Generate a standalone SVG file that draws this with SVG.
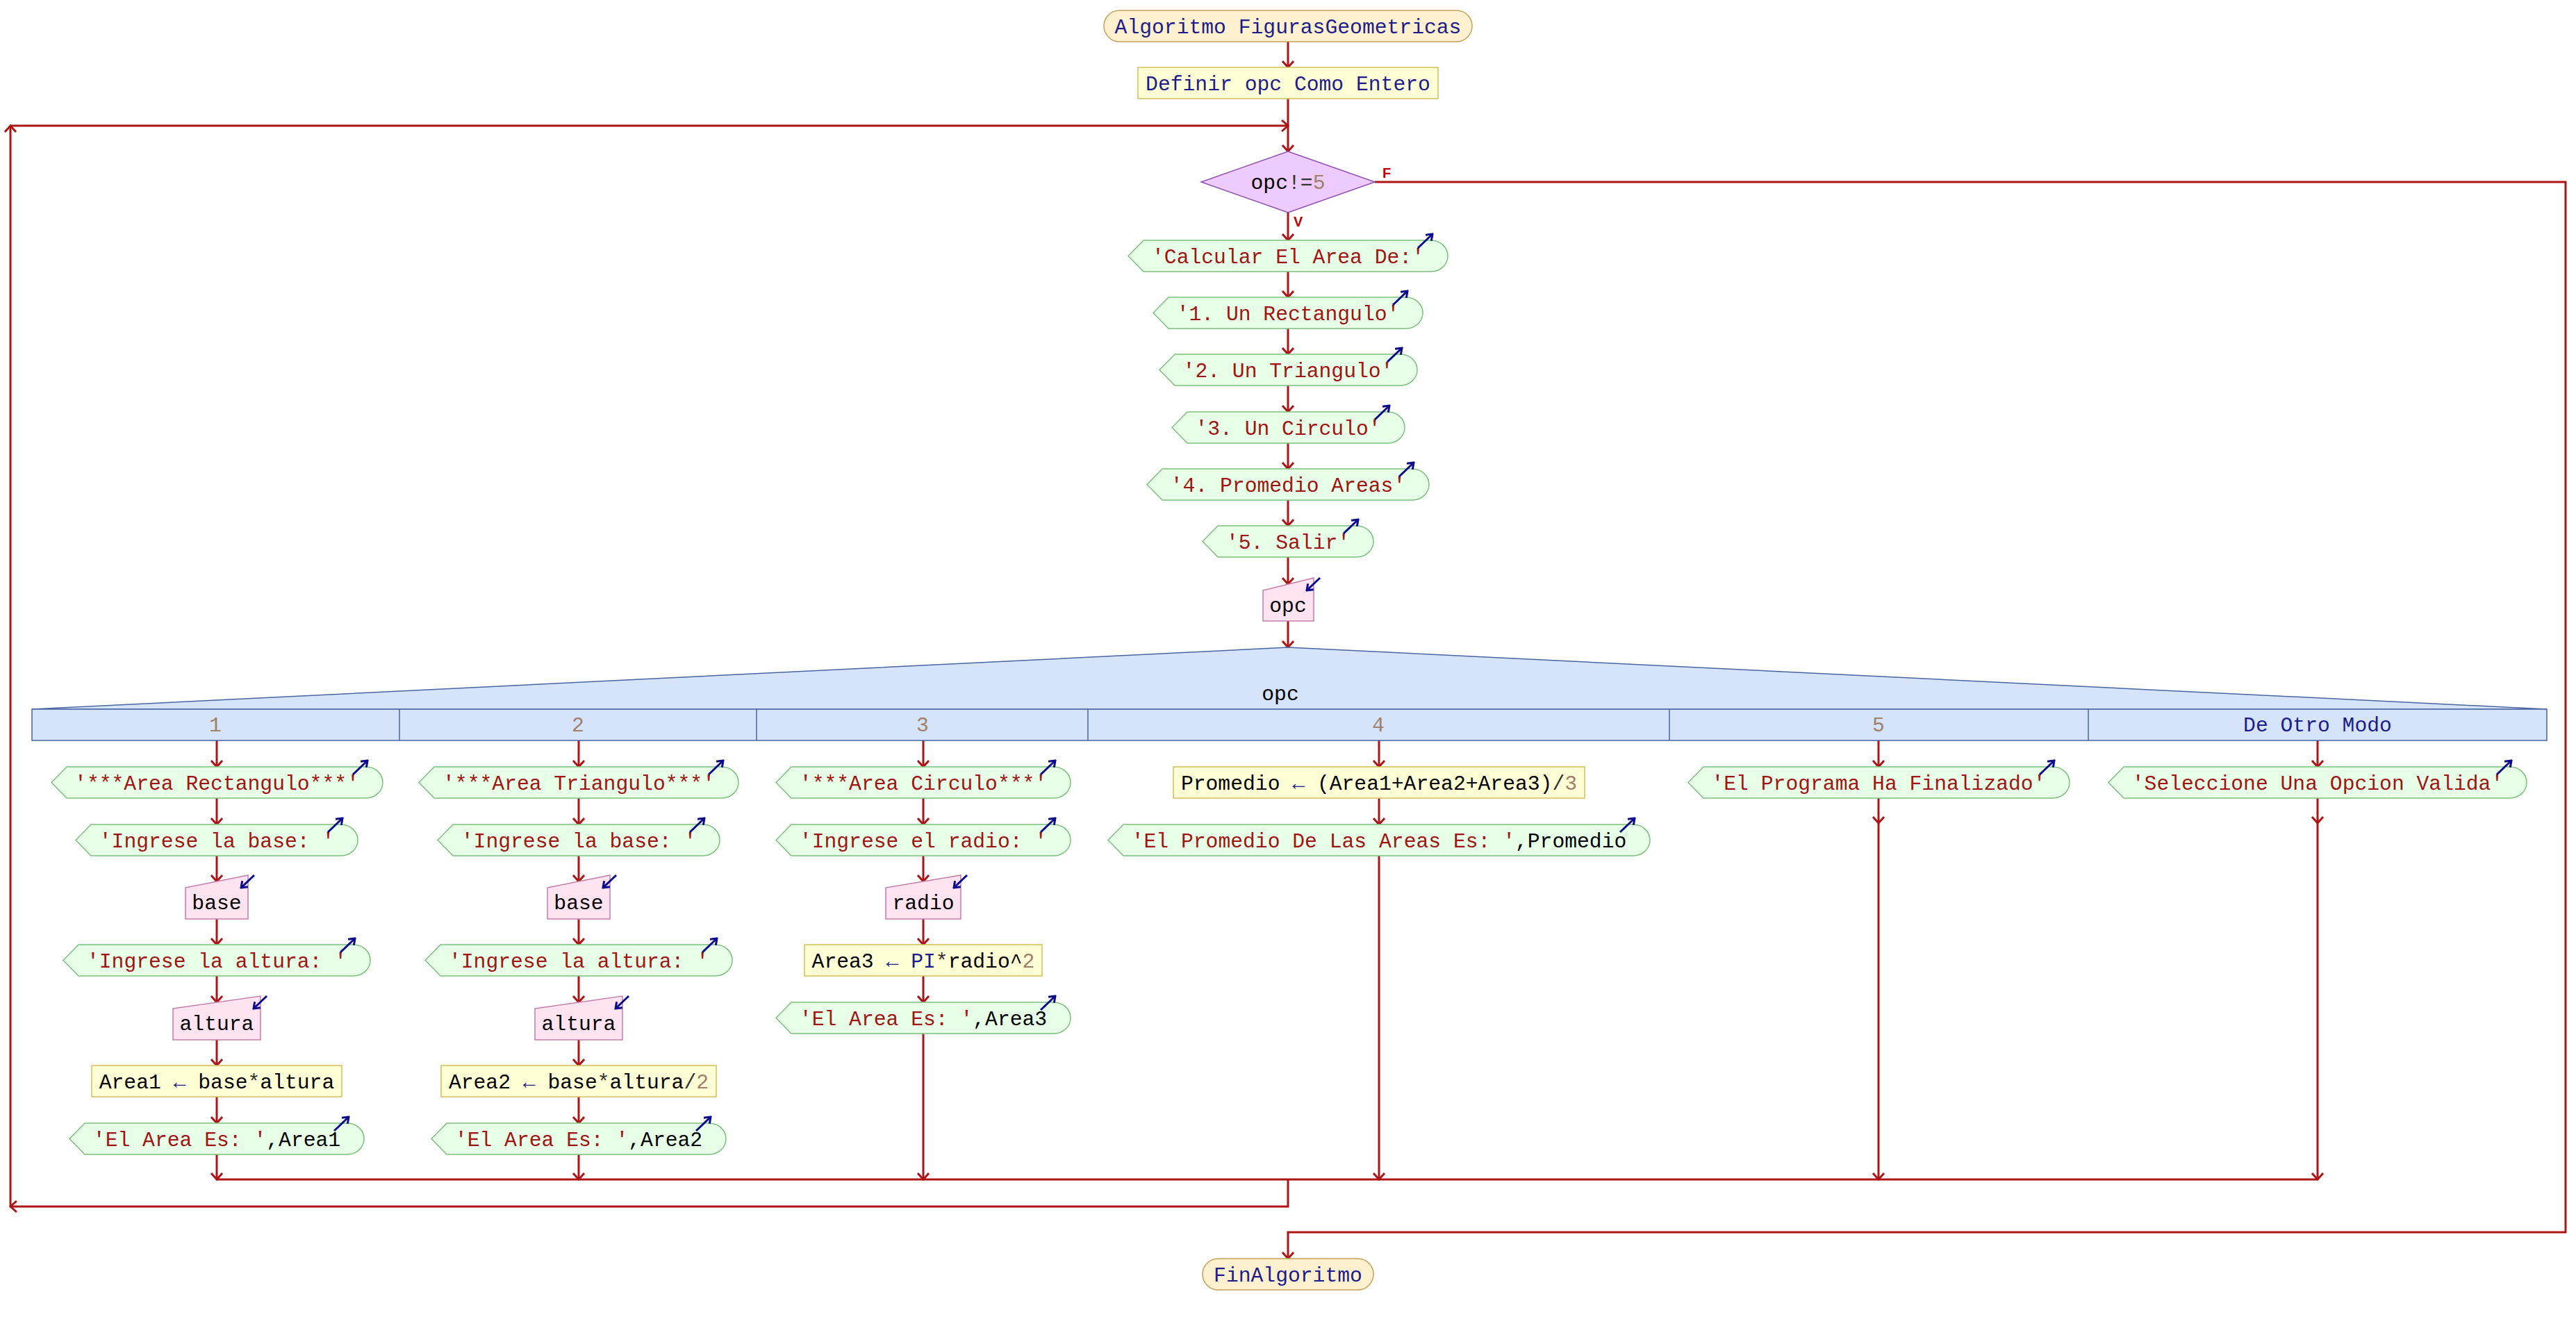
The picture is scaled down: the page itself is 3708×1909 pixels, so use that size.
<svg xmlns="http://www.w3.org/2000/svg" width="3708" height="1909" viewBox="0 0 3708 1909">
<style>
.t{font-family:"Liberation Mono","DejaVu Sans Mono",monospace;font-size:29.7px;text-anchor:middle}
.kw{fill:#1C1C8C}.st{fill:#A01414}.id{fill:#000}.nu{fill:#A0806A}.op{fill:#333}
.out{fill:#E6FFE6;stroke:#7DC07D;stroke-width:1.5}
.inp{fill:#FFE3F1;stroke:#C47FA8;stroke-width:1.5}
.asg{fill:#FFFFD6;stroke:#D2BE5A;stroke-width:1.5}
.term{fill:#FFF1CF;stroke:#C4A05A;stroke-width:1.5}
.dec{fill:#EDCBFF;stroke:#8E4FB0;stroke-width:1.5}
.sw{fill:#D5E4FA;stroke:#4A64A0;stroke-width:1.5}
.ln{fill:none;stroke:#AD1416;stroke-width:3}
.ar{marker-end:url(#ar)}
.ba{stroke:#0A0A8C;stroke-width:3;marker-end:url(#ab)}
.lbl{font-family:"Liberation Sans",Arial,sans-serif;font-weight:bold;font-size:20px;fill:#C00000}
</style>
<defs>
<marker id="ar" viewBox="-12 -10 14 20" refX="0" refY="0" markerWidth="14" markerHeight="20" markerUnits="userSpaceOnUse" orient="auto"><path d="M-9,-8 L0,0 L-9,8" fill="none" stroke="#AD1416" stroke-width="3"/></marker>
<marker id="ab" viewBox="-11 -8 13 16" refX="0" refY="0" markerWidth="13" markerHeight="16" markerUnits="userSpaceOnUse" orient="auto"><path d="M-8,-6 L0,0 L-8,6" fill="none" stroke="#0A0A8C" stroke-width="3"/></marker>
</defs>
<rect width="3708" height="1909" fill="#fff"/>

<g id="connectors">
<path class="ln ar" d="M1854,60 V97"/>
<path class="ln ar" d="M1854,142 V218"/>
<path class="ln ar" d="M1854,306 V346"/>
<path class="ln ar" d="M1854,391 V428"/>
<path class="ln ar" d="M1854,473 V510"/>
<path class="ln ar" d="M1854,555 V593"/>
<path class="ln ar" d="M1854,638 V675"/>
<path class="ln ar" d="M1854,720 V757"/>
<path class="ln ar" d="M1854,802 V841"/>
<path class="ln ar" d="M1854,894 V932"/>
<path class="ln ar" d="M312,1066 V1104"/>
<path class="ln ar" d="M833,1066 V1104"/>
<path class="ln ar" d="M1329,1066 V1104"/>
<path class="ln ar" d="M1985,1066 V1104"/>
<path class="ln ar" d="M2704,1066 V1104"/>
<path class="ln ar" d="M3336,1066 V1104"/>
<path class="ln ar" d="M312,1149 V1187"/>
<path class="ln ar" d="M312,1232 V1269"/>
<path class="ln ar" d="M312,1323 V1360"/>
<path class="ln ar" d="M312,1405 V1443"/>
<path class="ln ar" d="M312,1497 V1534"/>
<path class="ln ar" d="M312,1579 V1617"/>
<path class="ln ar" d="M312,1662 V1698"/>
<path class="ln ar" d="M833,1149 V1187"/>
<path class="ln ar" d="M833,1232 V1269"/>
<path class="ln ar" d="M833,1323 V1360"/>
<path class="ln ar" d="M833,1405 V1443"/>
<path class="ln ar" d="M833,1497 V1534"/>
<path class="ln ar" d="M833,1579 V1617"/>
<path class="ln ar" d="M833,1662 V1698"/>
<path class="ln ar" d="M1329,1149 V1187"/>
<path class="ln ar" d="M1329,1232 V1269"/>
<path class="ln ar" d="M1329,1323 V1360"/>
<path class="ln ar" d="M1329,1405 V1443"/>
<path class="ln ar" d="M1329,1488 V1698"/>
<path class="ln ar" d="M1985,1149 V1187"/>
<path class="ln ar" d="M1985,1232 V1698"/>
<path class="ln ar" d="M2704,1149 V1185"/>
<path class="ln ar" d="M2704,1185 V1698"/>
<path class="ln ar" d="M3336,1149 V1185"/>
<path class="ln ar" d="M3336,1185 V1698"/>
<path class="ln" d="M312,1698 H3336"/>
<path class="ln ar" d="M1854,1698 V1737 H15"/>
<path class="ln ar" d="M15,1737 V181"/>
<path class="ln ar" d="M15,181 H1854"/>
<path class="ln ar" d="M1979,262 H3693 V1774 H1854 V1812"/>
<text class="lbl" x="1990" y="256">F</text>
<text class="lbl" x="1862" y="326">V</text>
</g>

<g id="inicio">
<rect class="term" x="1589" y="15" width="530" height="45" rx="22.5"/>
<text class="t kw" x="1854" y="47.5">Algoritmo FigurasGeometricas</text>
</g>
<g id="definir">
<rect class="asg" x="1638" y="97" width="432" height="45"/>
<text class="t kw" x="1854" y="129.5">Definir opc Como Entero</text>
</g>
<g id="mientras">
<polygon class="dec" points="1854,218 1979,262 1854,306 1729,262"/>
<text class="t" x="1854" y="272"><tspan class="id">opc</tspan><tspan class="op">!=</tspan><tspan class="nu">5</tspan></text>
</g>
<g id="menu0">
<path class="out" d="M1624,368.5 L1646,346 H2060 A24 22.5 0 0 1 2060,391 H1646 Z"/>
<text class="t st" x="1854" y="378.5">'Calcular El Area De:'</text>
<line class="ba" x1="2041" y1="357" x2="2062" y2="337"/>
</g>
<g id="menu1">
<path class="out" d="M1660,450.5 L1682,428 H2024 A24 22.5 0 0 1 2024,473 H1682 Z"/>
<text class="t st" x="1854" y="460.5">'1. Un Rectangulo'</text>
<line class="ba" x1="2005" y1="439" x2="2026" y2="419"/>
</g>
<g id="menu2">
<path class="out" d="M1669,532.5 L1691,510 H2016 A24 22.5 0 0 1 2016,555 H1691 Z"/>
<text class="t st" x="1854" y="542.5">'2. Un Triangulo'</text>
<line class="ba" x1="1997" y1="521" x2="2018" y2="501"/>
</g>
<g id="menu3">
<path class="out" d="M1687,615.5 L1709,593 H1998 A24 22.5 0 0 1 1998,638 H1709 Z"/>
<text class="t st" x="1854" y="625.5">'3. Un Circulo'</text>
<line class="ba" x1="1979" y1="604" x2="2000" y2="584"/>
</g>
<g id="menu4">
<path class="out" d="M1651,697.5 L1673,675 H2033 A24 22.5 0 0 1 2033,720 H1673 Z"/>
<text class="t st" x="1854" y="707.5">'4. Promedio Areas'</text>
<line class="ba" x1="2014" y1="686" x2="2035" y2="666"/>
</g>
<g id="menu5">
<path class="out" d="M1731,779.5 L1753,757 H1953 A24 22.5 0 0 1 1953,802 H1753 Z"/>
<text class="t st" x="1854" y="789.5">'5. Salir'</text>
<line class="ba" x1="1934" y1="768" x2="1955" y2="748"/>
</g>
<g id="leer_opc">
<path class="inp" d="M1818,850 L1891,832 V894 H1818 Z"/>
<text class="t id" x="1854" y="881">opc</text>
<line class="ba" x1="1900" y1="832" x2="1881" y2="850"/>
</g>
<g id="segun">
<path class="sw" d="M46,1021 L1854,932 L3666,1021 Z"/>
<rect class="sw" x="46" y="1021" width="3620" height="45"/>
<path fill="none" stroke="#4A64A0" stroke-width="1.5" d="M575,1021 V1066 M1089,1021 V1066 M1566,1021 V1066 M2403,1021 V1066 M3006,1021 V1066"/>
<text class="t id" x="1843" y="1008">opc</text>
<text class="t nu" x="310" y="1053">1</text>
<text class="t nu" x="832" y="1053">2</text>
<text class="t nu" x="1328" y="1053">3</text>
<text class="t nu" x="1984" y="1053">4</text>
<text class="t nu" x="2704" y="1053">5</text>
<text class="t kw" x="3336" y="1053">De Otro Modo</text>
</g>

<g id="c1r1">
<path class="out" d="M74,1126.5 L96,1104 H527 A24 22.5 0 0 1 527,1149 H96 Z"/>
<text class="t st" x="312" y="1136.5">'***Area Rectangulo***'</text>
<line class="ba" x1="508" y1="1115" x2="529" y2="1095"/>
</g>
<g id="c1r2">
<path class="out" d="M109,1209.5 L131,1187 H491 A24 22.5 0 0 1 491,1232 H131 Z"/>
<text class="t st" x="312" y="1219.5">'Ingrese la base: '</text>
<line class="ba" x1="472" y1="1198" x2="493" y2="1178"/>
</g>
<g id="c1r3">
<path class="inp" d="M267,1278 L357,1260 V1323 H267 Z"/>
<text class="t id" x="312" y="1309">base</text>
<line class="ba" x1="366" y1="1260" x2="347" y2="1278"/>
</g>
<g id="c1r4">
<path class="out" d="M91,1382.5 L113,1360 H509 A24 22.5 0 0 1 509,1405 H113 Z"/>
<text class="t st" x="312" y="1392.5">'Ingrese la altura: '</text>
<line class="ba" x1="490" y1="1371" x2="511" y2="1351"/>
</g>
<g id="c1r5">
<path class="inp" d="M249,1452 L375,1434 V1497 H249 Z"/>
<text class="t id" x="312" y="1483">altura</text>
<line class="ba" x1="384" y1="1434" x2="365" y2="1452"/>
</g>
<g id="c1r6">
<rect class="asg" x="132" y="1534" width="360" height="45"/>
<text class="t" x="312" y="1566.5"><tspan class="id">Area1 </tspan><tspan class="kw">←</tspan><tspan class="id"> base</tspan><tspan class="op">*</tspan><tspan class="id">altura</tspan></text>
</g>
<g id="c1r7">
<path class="out" d="M100,1639.5 L122,1617 H500 A24 22.5 0 0 1 500,1662 H122 Z"/>
<text class="t" x="312" y="1649.5"><tspan class="st">'El Area Es: '</tspan><tspan class="id">,Area1</tspan></text>
<line class="ba" x1="481" y1="1628" x2="502" y2="1608"/>
</g>

<g id="c2r1">
<path class="out" d="M603,1126.5 L625,1104 H1039 A24 22.5 0 0 1 1039,1149 H625 Z"/>
<text class="t st" x="833" y="1136.5">'***Area Triangulo***'</text>
<line class="ba" x1="1020" y1="1115" x2="1041" y2="1095"/>
</g>
<g id="c2r2">
<path class="out" d="M630,1209.5 L652,1187 H1012 A24 22.5 0 0 1 1012,1232 H652 Z"/>
<text class="t st" x="833" y="1219.5">'Ingrese la base: '</text>
<line class="ba" x1="993" y1="1198" x2="1014" y2="1178"/>
</g>
<g id="c2r3">
<path class="inp" d="M788,1278 L878,1260 V1323 H788 Z"/>
<text class="t id" x="833" y="1309">base</text>
<line class="ba" x1="887" y1="1260" x2="868" y2="1278"/>
</g>
<g id="c2r4">
<path class="out" d="M612,1382.5 L634,1360 H1030 A24 22.5 0 0 1 1030,1405 H634 Z"/>
<text class="t st" x="833" y="1392.5">'Ingrese la altura: '</text>
<line class="ba" x1="1011" y1="1371" x2="1032" y2="1351"/>
</g>
<g id="c2r5">
<path class="inp" d="M770,1452 L896,1434 V1497 H770 Z"/>
<text class="t id" x="833" y="1483">altura</text>
<line class="ba" x1="905" y1="1434" x2="886" y2="1452"/>
</g>
<g id="c2r6">
<rect class="asg" x="635" y="1534" width="396" height="45"/>
<text class="t" x="833" y="1566.5"><tspan class="id">Area2 </tspan><tspan class="kw">←</tspan><tspan class="id"> base</tspan><tspan class="op">*</tspan><tspan class="id">altura</tspan><tspan class="op">/</tspan><tspan class="nu">2</tspan></text>
</g>
<g id="c2r7">
<path class="out" d="M621,1639.5 L643,1617 H1021 A24 22.5 0 0 1 1021,1662 H643 Z"/>
<text class="t" x="833" y="1649.5"><tspan class="st">'El Area Es: '</tspan><tspan class="id">,Area2</tspan></text>
<line class="ba" x1="1002" y1="1628" x2="1023" y2="1608"/>
</g>

<g id="c3r1">
<path class="out" d="M1117,1126.5 L1139,1104 H1517 A24 22.5 0 0 1 1517,1149 H1139 Z"/>
<text class="t st" x="1329" y="1136.5">'***Area Circulo***'</text>
<line class="ba" x1="1498" y1="1115" x2="1519" y2="1095"/>
</g>
<g id="c3r2">
<path class="out" d="M1117,1209.5 L1139,1187 H1517 A24 22.5 0 0 1 1517,1232 H1139 Z"/>
<text class="t st" x="1329" y="1219.5">'Ingrese el radio: '</text>
<line class="ba" x1="1498" y1="1198" x2="1519" y2="1178"/>
</g>
<g id="c3r3">
<path class="inp" d="M1275,1278 L1383,1260 V1323 H1275 Z"/>
<text class="t id" x="1329" y="1309">radio</text>
<line class="ba" x1="1392" y1="1260" x2="1373" y2="1278"/>
</g>
<g id="c3r4">
<rect class="asg" x="1158" y="1360" width="342" height="45"/>
<text class="t" x="1329" y="1392.5"><tspan class="id">Area3 </tspan><tspan class="kw">←</tspan><tspan class="id"> </tspan><tspan class="kw">PI</tspan><tspan class="op">*</tspan><tspan class="id">radio^</tspan><tspan class="nu">2</tspan></text>
</g>
<g id="c3r5">
<path class="out" d="M1117,1465.5 L1139,1443 H1517 A24 22.5 0 0 1 1517,1488 H1139 Z"/>
<text class="t" x="1329" y="1475.5"><tspan class="st">'El Area Es: '</tspan><tspan class="id">,Area3</tspan></text>
<line class="ba" x1="1498" y1="1454" x2="1519" y2="1434"/>
</g>

<g id="c4r1">
<rect class="asg" x="1689" y="1104" width="592" height="45"/>
<text class="t" x="1985" y="1136.5"><tspan class="id">Promedio </tspan><tspan class="kw">←</tspan><tspan class="id"> (Area1+Area2+Area3)</tspan><tspan class="op">/</tspan><tspan class="nu">3</tspan></text>
</g>
<g id="c4r2">
<path class="out" d="M1595,1209.5 L1617,1187 H2351 A24 22.5 0 0 1 2351,1232 H1617 Z"/>
<text class="t" x="1985" y="1219.5"><tspan class="st">'El Promedio De Las Areas Es: '</tspan><tspan class="id">,Promedio</tspan></text>
<line class="ba" x1="2332" y1="1198" x2="2353" y2="1178"/>
</g>

<g id="c5r1">
<path class="out" d="M2430,1126.5 L2452,1104 H2955 A24 22.5 0 0 1 2955,1149 H2452 Z"/>
<text class="t st" x="2704" y="1136.5">'El Programa Ha Finalizado'</text>
<line class="ba" x1="2936" y1="1115" x2="2957" y2="1095"/>
</g>
<g id="c6r1">
<path class="out" d="M3035,1126.5 L3057,1104 H3613 A24 22.5 0 0 1 3613,1149 H3057 Z"/>
<text class="t st" x="3336" y="1136.5">'Seleccione Una Opcion Valida'</text>
<line class="ba" x1="3594" y1="1115" x2="3615" y2="1095"/>
</g>

<g id="fin">
<rect class="term" x="1731" y="1812" width="246" height="45" rx="22.5"/>
<text class="t kw" x="1854" y="1844.5">FinAlgoritmo</text>
</g>
</svg>
